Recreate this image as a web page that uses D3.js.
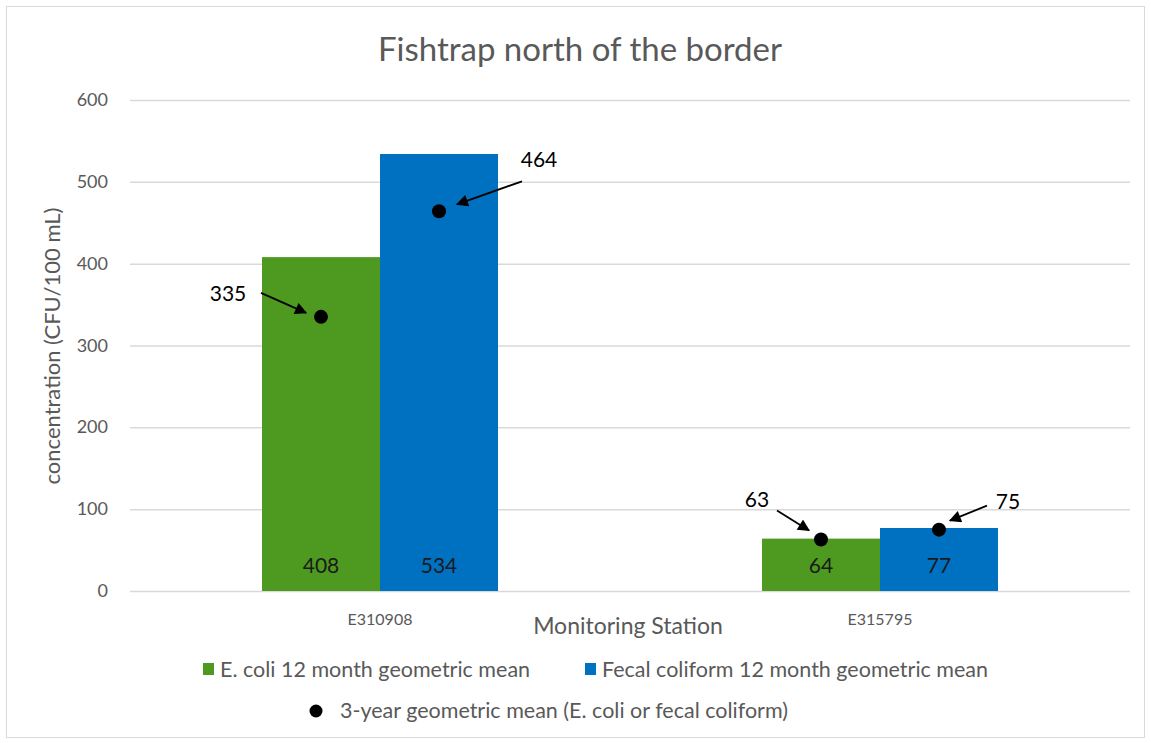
<!DOCTYPE html>
<html>
<head>
<meta charset="utf-8">
<script src="https://cdn.jsdelivr.net/npm/d3@7"></script>
<style>
  body { margin: 0; background: #fff; }
  text { font-family: Lato, "Liberation Sans", sans-serif; }
</style>
</head>
<body>
<div class="canvas"></div>
<script>
// data
const stations = ["E310908", "E315795"];
const seriesNames = ["E. coli 12 month geometric mean", "Fecal coliform 12 month geometric mean"];
const ecoli12 = [408, 64];
const fecal12 = [534, 77];
const ecoli3yr = [335, 63];
const fecal3yr = [464, 75];
const yTicks = [0, 100, 200, 300, 400, 500, 600];

const colors = ["#4E9A20", "#0070C0"];
const dims = { width: 1151, height: 743 };
const plot = { left: 130, right: 1130, top: 100, bottom: 591 };

const svg = d3.select('.canvas')
  .append('svg')
  .attr('width', dims.width)
  .attr('height', dims.height);

// chart border
svg.append('rect')
  .attr('x', 6.5).attr('y', 6.5)
  .attr('width', 1138).attr('height', 731)
  .attr('fill', '#fff')
  .attr('stroke', '#d9d9d9');

svg.append('text')
  .attr('x', 580).attr('y', 61)
  .attr('text-anchor', 'middle')
  .attr('font-size', 33)
  .attr('fill', '#595959')
  .text('Fishtrap north of the border');

const x = d3.scaleBand().domain(stations).range([plot.left, plot.right]);
const x1 = d3.scaleBand().domain([0, 1]).range([0, 236]);
const y = d3.scaleLinear().domain([0, 600]).range([plot.bottom, plot.top]);

// gridlines
svg.append('g')
  .attr('transform', `translate(${plot.left},0)`)
  .call(d3.axisLeft(y).tickValues(yTicks).tickSize(-(plot.right - plot.left)).tickFormat(''))
  .call(g => g.select('.domain').remove())
  .call(g => g.selectAll('line').attr('stroke', '#d9d9d9').attr('stroke-width', 1.5));

// y tick labels
svg.append('g')
  .selectAll('text')
  .data(yTicks)
  .enter().append('text')
  .attr('x', 108)
  .attr('y', d => y(d) + 6)
  .attr('text-anchor', 'end')
  .attr('font-size', 18)
  .attr('fill', '#595959')
  .text(d => d);

svg.append('text')
  .attr('transform', 'translate(60,346) rotate(-90)')
  .attr('text-anchor', 'middle')
  .attr('font-size', 22)
  .attr('fill', '#595959')
  .text('concentration (CFU/100 mL)');

// bars
const bars = [];
stations.forEach((s, i) => {
  bars.push({ station: s, k: 0, value: ecoli12[i], mean3: ecoli3yr[i] });
  bars.push({ station: s, k: 1, value: fecal12[i], mean3: fecal3yr[i] });
});
const bx = d => x(d.station) + x.bandwidth() / 2 - 118 + x1(d.k);

svg.append('g').selectAll('rect')
  .data(bars)
  .enter().append('rect')
  .attr('x', bx)
  .attr('y', d => y(d.value))
  .attr('width', x1.bandwidth())
  .attr('height', d => y(0) - y(d.value))
  .attr('fill', d => colors[d.k]);

svg.append('g').selectAll('text')
  .data(bars)
  .enter().append('text')
  .attr('x', d => bx(d) + x1.bandwidth() / 2)
  .attr('y', 573)
  .attr('text-anchor', 'middle')
  .attr('font-size', 21)
  .attr('fill', '#1a1a1a')
  .text(d => d.value);

// 3-year dots with arrow annotations
const notes = [
  { label: [-93, -16], from: [-60, -24], to: [-15, -4] },
  { label: [100, -44], from: [83, -30], to: [18, -7] },
  { label: [-64, -32], from: [-44, -29], to: [-12, -9] },
  { label: [69, -21], from: [48, -24], to: [11, -9] }
];

svg.append('defs').append('marker')
  .attr('id', 'head')
  .attr('viewBox', '0 0 10 10')
  .attr('refX', 9).attr('refY', 5)
  .attr('markerWidth', 13).attr('markerHeight', 12)
  .attr('markerUnits', 'userSpaceOnUse')
  .attr('orient', 'auto')
  .append('path').attr('d', 'M0,0 L10,5 L0,10 z').attr('fill', '#000');

const dots = svg.append('g').selectAll('g')
  .data(bars)
  .enter().append('g')
  .attr('transform', d => `translate(${bx(d) + x1.bandwidth() / 2}, ${y(d.mean3)})`);

dots.append('circle').attr('r', 7).attr('fill', '#000');

dots.append('line')
  .attr('x1', (d, i) => notes[i].from[0]).attr('y1', (d, i) => notes[i].from[1])
  .attr('x2', (d, i) => notes[i].to[0]).attr('y2', (d, i) => notes[i].to[1])
  .attr('stroke', '#000').attr('stroke-width', 1.8)
  .attr('marker-end', 'url(#head)');

dots.append('text')
  .attr('x', (d, i) => notes[i].label[0])
  .attr('y', (d, i) => notes[i].label[1])
  .attr('text-anchor', 'middle')
  .attr('font-size', 21)
  .attr('fill', '#000')
  .text(d => d.mean3);

// x axis labels
svg.append('g').selectAll('text')
  .data(stations)
  .enter().append('text')
  .attr('x', d => x(d) + x.bandwidth() / 2)
  .attr('y', 625)
  .attr('text-anchor', 'middle')
  .attr('font-size', 16)
  .attr('fill', '#595959')
  .text(d => d);

svg.append('text')
  .attr('x', 628).attr('y', 634)
  .attr('text-anchor', 'middle')
  .attr('font-size', 23)
  .attr('fill', '#595959')
  .text('Monitoring Station');

// legend
const legend = svg.append('g');
const legX = [203, 585];
seriesNames.forEach((n, i) => {
  legend.append('rect')
    .attr('x', legX[i]).attr('y', 663)
    .attr('width', 11).attr('height', 12)
    .attr('fill', colors[i]);
  legend.append('text')
    .attr('x', legX[i] + 17).attr('y', 677)
    .attr('font-size', 21.5)
    .attr('fill', '#595959')
    .text(n);
});
legend.append('circle').attr('cx', 316).attr('cy', 711).attr('r', 6.5).attr('fill', '#000');
legend.append('text')
  .attr('x', 340).attr('y', 718)
  .attr('font-size', 21.5)
  .attr('fill', '#595959')
  .text('3-year geometric mean (E. coli or fecal coliform)');
</script>
</body>
</html>
